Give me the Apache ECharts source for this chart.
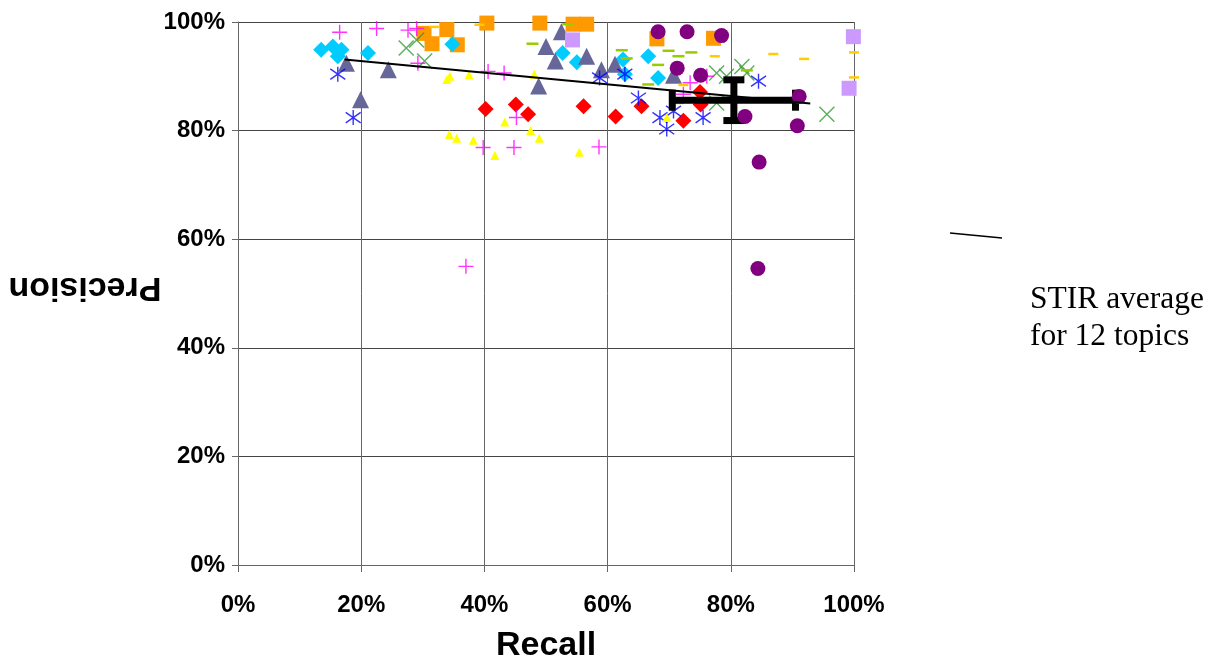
<!DOCTYPE html>
<html>
<head>
<meta charset="utf-8">
<script src="https://cdn.jsdelivr.net/npm/echarts@6/dist/echarts.min.js"></script>
<style>
html,body{margin:0;padding:0;background:#fff;width:100%;height:100%;overflow:hidden;}
#chart{width:100vw;height:100vh;overflow:hidden;}
</style>
</head>
<body>
<div id="chart"></div>
<script>
// Recall / Precision points (percent) per topic series
const redDiamonds = [[40.2,84.0],[45.1,84.8],[47.1,83.0],[56.1,84.5],[61.3,82.6],[65.5,84.5],[72.3,81.8],[75.0,87.1],[75.1,84.8]];
const orangeSquares = [[30.2,97.9],[31.5,96.0],[33.9,98.6],[35.6,95.8],[40.4,99.8],[49.0,99.8],[54.4,99.6],[56.6,99.6],[68.0,96.9],[77.2,97.0]];
const cyanDiamonds = [[13.5,94.9],[15.4,95.5],[16.2,93.7],[16.8,94.9],[21.1,94.3],[34.8,95.9],[52.7,94.3],[55.0,92.6],[62.5,93.1],[62.8,90.4],[66.6,93.7],[68.2,89.7]];
const slateTriangles = [[17.6,92.4],[19.9,85.7],[24.4,91.2],[48.8,88.2],[50.0,95.5],[51.5,92.8],[52.5,98.2],[56.6,93.7],[59.0,91.2],[61.2,92.2],[70.7,90.2]];
const blueStars = [[16.2,90.4],[18.7,82.4],[58.7,89.7],[62.8,90.4],[65.0,86.0],[68.5,82.4],[69.6,80.3],[70.7,83.6],[75.5,82.4],[84.5,89.1]];
const greenCrosses = [[27.3,95.2],[29.0,96.7],[30.3,92.8],[77.7,90.6],[79.3,90.0],[81.8,91.8],[82.6,90.6],[77.7,85.1],[95.6,83.0]];
const magentaPlus = [[16.5,98.1],[22.5,98.8],[27.6,98.5],[29.0,98.8],[29.2,92.4],[37.0,55.0],[39.8,76.9],[40.6,90.9],[43.2,90.6],[44.8,76.9],[45.2,82.4],[58.6,77.0],[72.3,86.7],[73.4,88.8],[76.1,90.0]];
const yellowTriangles = [[33.9,89.4],[34.4,90.0],[37.5,90.3],[48.1,90.4],[34.3,79.3],[35.5,78.6],[38.2,78.2],[41.7,75.4],[43.3,81.6],[47.5,80.0],[48.9,78.6],[55.4,76.0],[69.6,82.4]];
const limeDashes = [[47.8,96.0],[53.6,99.6],[62.3,94.8],[63.1,93.3],[66.6,88.5],[68.2,92.1],[69.9,94.7],[71.5,93.7],[73.6,94.4],[71.5,85.1],[82.6,91.1]];
const purpleCircles = [[68.2,98.2],[72.9,98.2],[78.5,97.5],[71.3,91.5],[75.1,90.2],[82.3,82.6],[91.1,86.3],[90.8,80.9],[84.6,74.2],[84.4,54.6]];
const lavenderSquares = [[54.3,96.7],[99.9,97.3],[99.2,87.8]];
const goldDashes = [[31.9,99.1],[39.2,99.5],[72.3,88.4],[77.4,93.7],[86.9,94.1],[91.9,93.2],[100,94.4],[100,89.8]];
// trend line end points
const trendLine = [[17.3,93.1],[92.9,85.0]];
// STIR average: [recall, precision, recall spread, precision spread]
const stirAverage = [[80.5,85.6,10.0,3.75]];
const axisTicks = [0,20,40,60,80,100];

const PLUS = 'path://M5 0L5 10M0 5L10 5';
const XMARK = 'path://M0 0L10 10M10 0L0 10';
const STAR = 'path://M5 0L5 10M0 1.5L10 8.5M10 1.5L0 8.5';

function sc(name, data, symbol, size, color, stroke, z) {
  return {
    type: 'scatter', name: name, data: data, symbol: symbol, symbolSize: size,
    z: z || 2, silent: true,
    itemStyle: stroke ? {color: 'rgba(0,0,0,0)', borderColor: color, borderWidth: 1.4} : {color: color, opacity: 1}
  };
}

const chart = echarts.init(document.getElementById('chart'));
const W = chart.getWidth(), H = chart.getHeight();
const sx = W / 1209, sy = H / 668;

chart.setOption({
  animation: false,
  backgroundColor: '#fff',
  grid: {left: 238 * sx, right: 355 * sx, top: 22 * sy, bottom: 96 * sy, containLabel: false},
  xAxis: {
    type: 'value', min: axisTicks[0], max: axisTicks[axisTicks.length - 1], interval: 20,
    name: 'Recall', nameLocation: 'middle', nameGap: 67 * sy,
    nameTextStyle: {fontFamily: 'Liberation Sans', fontWeight: 'bold', fontSize: 34, lineHeight: 28, color: '#000'},
    axisLine: {show: true, lineStyle: {color: '#666', width: 1}},
    axisTick: {show: true, inside: false, length: 7, lineStyle: {color: '#666'}},
    axisLabel: {formatter: '{value}%', fontFamily: 'Liberation Sans', fontWeight: 'bold', fontSize: 24, color: '#000', margin: 28 * sy},
    splitLine: {show: true, lineStyle: {color: '#666', width: 1}}
  },
  yAxis: {
    type: 'value', min: axisTicks[0], max: axisTicks[axisTicks.length - 1], interval: 20,
    axisLine: {show: true, lineStyle: {color: '#666', width: 1}},
    axisTick: {show: true, inside: false, length: 6, lineStyle: {color: '#666'}},
    axisLabel: {formatter: '{value}%', fontFamily: 'Liberation Sans', fontWeight: 'bold', fontSize: 24, color: '#000', margin: 13 * sx},
    splitLine: {show: true, lineStyle: {color: '#444', width: 1}}
  },
  graphic: [
    {type: 'text', x: 85 * sx, y: 287 * sy, rotation: Math.PI,
     style: {text: 'Precision', fontFamily: 'Liberation Sans', fontWeight: 'bold', fontSize: 34, fill: '#000', textAlign: 'center', textVerticalAlign: 'middle'}},
    {type: 'line', shape: {x1: 950 * sx, y1: 233 * sy, x2: 1002 * sx, y2: 238 * sy}, style: {stroke: '#000', lineWidth: 1.5}},
    {type: 'text', x: 1030 * sx, y: 318 * sy,
     style: {text: 'STIR average\nfor 12 topics', fontFamily: 'Liberation Serif', fontSize: 31.5, lineHeight: 37 * sy, fill: '#000', textAlign: 'left', textVerticalAlign: 'middle'}}
  ],
  series: [
    sc('Red', redDiamonds, 'diamond', 16, '#FF0000', false),
    sc('Orange', orangeSquares, 'rect', 15, '#FF9900', false),
    sc('Cyan', cyanDiamonds, 'diamond', 16, '#00CCFF', false),
    sc('Slate', slateTriangles, 'triangle', 17, '#666699', false),
    sc('Blue', blueStars, STAR, 15, '#0000FF', true),
    sc('Green', greenCrosses, XMARK, 15, '#339933', true),
    sc('Magenta', magentaPlus, PLUS, 15, '#FF00FF', true),
    sc('Yellow', yellowTriangles, 'triangle', 9, '#FFFF00', false),
    sc('Lime', limeDashes, 'rect', [12, 2.5], '#99CC00', false),
    {
      type: 'custom', name: 'STIR average', data: stirAverage, z: 3, silent: true,
      renderItem: function (params, api) {
        const x = api.value(0), y = api.value(1), ex = api.value(2), ey = api.value(3);
        const c = api.coord([x, y]);
        const l = api.coord([x - ex, y]);
        const r = api.coord([x + ex, y]);
        const t = api.coord([x, y + ey]);
        const b = api.coord([x, y - ey]);
        const th = 7, cap = 21;
        const st = {fill: '#000'};
        return {type: 'group', children: [
          {type: 'rect', shape: {x: l[0], y: c[1] - th / 2, width: r[0] - l[0], height: th}, style: st},
          {type: 'rect', shape: {x: c[0] - th / 2, y: t[1], width: th, height: b[1] - t[1]}, style: st},
          {type: 'rect', shape: {x: l[0] - th / 2, y: c[1] - cap / 2, width: th, height: cap}, style: st},
          {type: 'rect', shape: {x: r[0] - th / 2, y: c[1] - cap / 2, width: th, height: cap}, style: st},
          {type: 'rect', shape: {x: c[0] - cap / 2, y: t[1] - th / 2, width: cap, height: th}, style: st},
          {type: 'rect', shape: {x: c[0] - cap / 2, y: b[1] - th / 2, width: cap, height: th}, style: st}
        ]};
      }
    },
    sc('Purple', purpleCircles, 'circle', 15, '#800080', false, 4),
    sc('Lavender', lavenderSquares, 'rect', 15, '#CC99FF', false, 4),
    sc('Gold', goldDashes, 'rect', [10, 2.5], '#FFCC00', false, 4),
    {type: 'line', name: 'Trend', data: trendLine, symbol: 'none', z: 5, silent: true,
     lineStyle: {color: '#000', width: 2}}
  ]
});
</script>
</body>
</html>
